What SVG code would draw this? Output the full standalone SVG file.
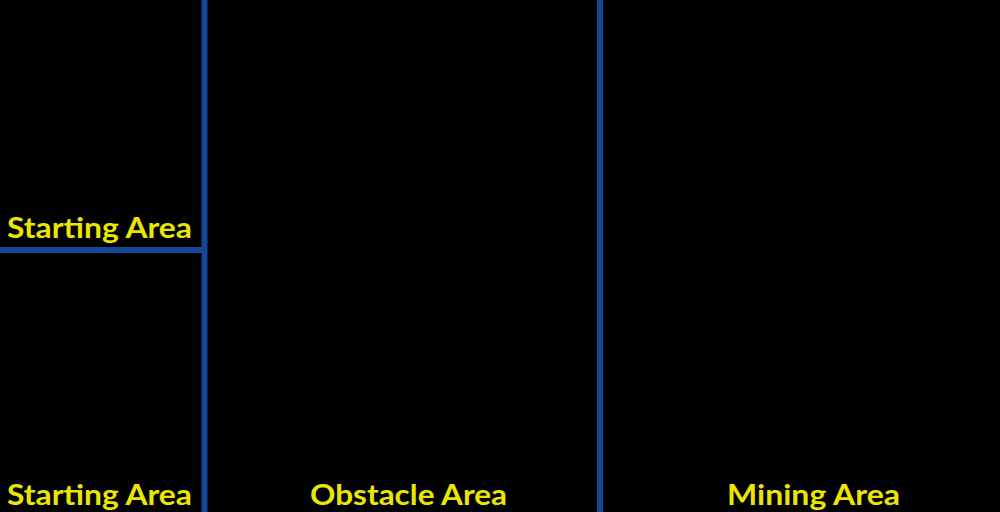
<svg xmlns="http://www.w3.org/2000/svg" width="1000" height="512" viewBox="0 0 1000 512">
<style>
.lbl{font-family:Lato,"Liberation Sans",sans-serif;font-weight:bold;font-size:29px;fill:#ebe600}
.wall{stroke:#15479a;stroke-width:6;fill:none}
</style>
<rect width="1000" height="512" fill="#000"/>
<g id="connectors">
<line class="wall" x1="204.5" y1="0" x2="204.5" y2="512"/>
<line class="wall" x1="600" y1="0" x2="600" y2="512"/>
<line class="wall" x1="0" y1="250" x2="207" y2="250"/>
</g>
<g id="start1"><text class="lbl" x="7" y="238" textLength="185" lengthAdjust="spacingAndGlyphs">Starting Area</text></g>
<g id="start2"><text class="lbl" x="7" y="505" textLength="185" lengthAdjust="spacingAndGlyphs">Starting Area</text></g>
<g id="obstacle"><text class="lbl" x="310" y="505" textLength="197" lengthAdjust="spacingAndGlyphs">Obstacle Area</text></g>
<g id="mining"><text class="lbl" x="727" y="505" textLength="173" lengthAdjust="spacingAndGlyphs">Mining Area</text></g>
</svg>
